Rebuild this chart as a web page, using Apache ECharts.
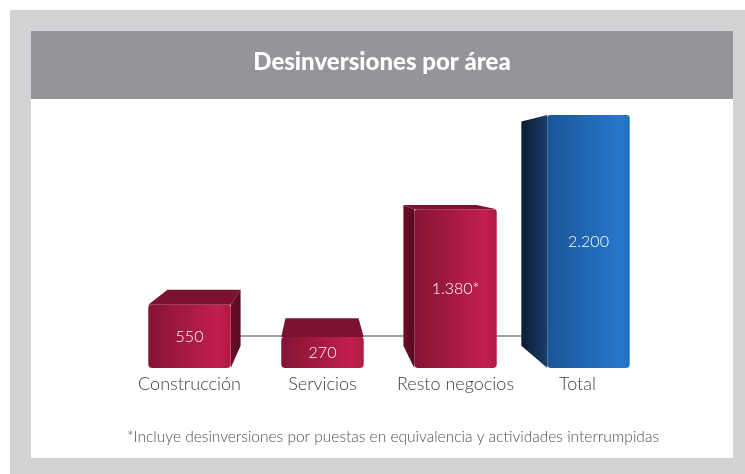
<!DOCTYPE html>
<html>
<head>
<meta charset="utf-8">
<script src="https://cdn.jsdelivr.net/npm/echarts@6/dist/echarts.min.js"></script>
<style>
html,body{margin:0;padding:0;background:#fff;}
#chart{width:745px;height:474px;}
</style>
</head>
<body>
<div id="chart"></div>
<script>
const titleText = 'Desinversiones por área';
const categories = ['Construcción', 'Servicios', 'Resto negocios', 'Total'];
const values = [550, 270, 1380, 2200];
const labelSuffix = ['', '', '*', ''];
const footnote = '*Incluye desinversiones por puestas en equivalencia y actividades interrumpidas';
const connectorLevel = 280;

function fmt(n) {
  return String(n).replace(/\B(?=(\d{3})+(?!\d))/g, '.');
}

const VP = [318, 172];
const K = 0.887;
const LIGHT = '300 16px Lato, "DejaVu Sans", sans-serif';

function grad(stops, x2, y2) {
  return new echarts.graphic.LinearGradient(0, 0, x2, y2, stops.map(s => ({offset: s[0], color: s[1]})));
}

const chart = echarts.init(document.getElementById('chart'), null, {renderer: 'canvas'});

const option = {
  animation: false,
  backgroundColor: '#ffffff',
  title: {
    text: titleText,
    left: 382,
    textAlign: 'center',
    top: 50,
    padding: 0,
    textStyle: {color: '#ffffff', fontSize: 24, fontWeight: 900, fontFamily: 'Lato, "DejaVu Sans", sans-serif'}
  },
  graphic: {
    elements: [
      {type: 'rect', z: -10, silent: true, shape: {x: 10, y: 10, width: 735, height: 464}, style: {fill: '#d1d3d4'}},
      {type: 'rect', z: -9, silent: true, shape: {x: 31, y: 31, width: 702, height: 427}, style: {fill: '#ffffff'}},
      {type: 'rect', z: -8, silent: true, shape: {x: 31, y: 31, width: 702, height: 68}, style: {fill: '#939598'}},
      {type: 'text', z: 5, silent: true, x: 393, y: 437,
        style: {text: footnote, fill: '#505050', font: '300 15.5px Lato, "DejaVu Sans", sans-serif', align: 'center', verticalAlign: 'middle'}}
    ]
  },
  grid: {left: 123, right: 90, top: 115, bottom: 106},
  xAxis: {
    type: 'category',
    data: categories,
    axisLine: {show: false},
    axisTick: {show: false},
    axisLabel: {
      interval: 0, color: '#3f3f3f', fontSize: 18, fontWeight: 300, fontFamily: 'Lato, "DejaVu Sans", sans-serif', margin: 7,
      formatter: function (val, i) {
        return i === categories.length - 1 ? '{t|' + val + '}' : val;
      },
      rich: {t: {color: '#3f3f3f', fontSize: 18, fontWeight: 300, fontFamily: 'Lato, "DejaVu Sans", sans-serif', padding: [0, 22, 0, 0]}}
    }
  },
  yAxis: {
    type: 'value', min: 0, max: 2200, show: false, splitLine: {show: false}
  },
  series: [
    {
      type: 'line',
      z: 1,
      data: [],
      markLine: {
        silent: true,
        z: 1,
        symbol: 'none',
        label: {show: false},
        lineStyle: {color: '#a3a3a3', width: 2, type: 'solid'},
        data: [[{coord: [categories[0], connectorLevel]}, {coord: [categories[categories.length - 1], connectorLevel]}]]
      }
    },
    {
      type: 'custom',
      z: 3,
      encode: {x: 0, y: 1},
      data: categories.map((c, i) => [c, values[i]]),
      renderItem: function (params, api) {
        const idx = params.dataIndex;
        const isTotal = idx === categories.length - 1;
        const v = api.value(1);
        const base = api.coord([api.value(0), 0]);
        const top = api.coord([api.value(0), v]);
        const bw = api.size([1, 0])[0] * 0.62;
        const L = base[0] - bw / 2, R = base[0] + bw / 2, T = top[1], B = base[1];
        const back = p => [VP[0] + K * (p[0] - VP[0]), VP[1] + K * (p[1] - VP[1])];
        const fTL = [L, T], fTR = [R, T], fBR = [R, B], fBL = [L, B];
        const bTL = back(fTL), bTR = back(fTR), bBR = back(fBR), bBL = back(fBL);
        const c = isTotal ? {
          top: '#173457',
          side: grad([[0, '#0d1c31'], [1, '#1a3c69']], 1, 0),
          front: grad([[0, '#1b5596'], [0.88, '#2677cc'], [1, '#2270bf']], 1, 0)
        } : {
          top: '#7a1230',
          side: grad([[0, '#6a0f28'], [1, '#560b21']], 1, 0),
          front: grad([[0, '#841434'], [0.85, '#c21f4b'], [1, '#ad1b43']], 1, 0)
        };
        const children = [];
        if (bTL[1] < T) {
          children.push({type: 'polygon', shape: {points: [fTL, fTR, bTR, bTL]}, style: {fill: c.top}});
        }
        if (bTL[0] < L) {
          children.push({type: 'polygon', shape: {points: [fTL, bTL, bBL, fBL]}, style: {fill: c.side}});
        }
        if (bTR[0] > R) {
          children.push({type: 'polygon', shape: {points: [fTR, bTR, bBR, fBR]}, style: {fill: c.side}});
        }
        children.push({type: 'rect', shape: {x: L, y: T, width: R - L, height: B - T, r: [3, 3, 4, 4]}, style: {fill: c.front}});
        children.push({
          type: 'text',
          style: {
            text: fmt(values[idx]) + labelSuffix[idx],
            x: (L + R) / 2, y: (T + B) / 2,
            fill: '#ffffff', font: LIGHT, align: 'center', verticalAlign: 'middle'
          }
        });
        return {type: 'group', children: children};
      }
    }
  ]
};
chart.setOption(option);
</script>
</body>
</html>
